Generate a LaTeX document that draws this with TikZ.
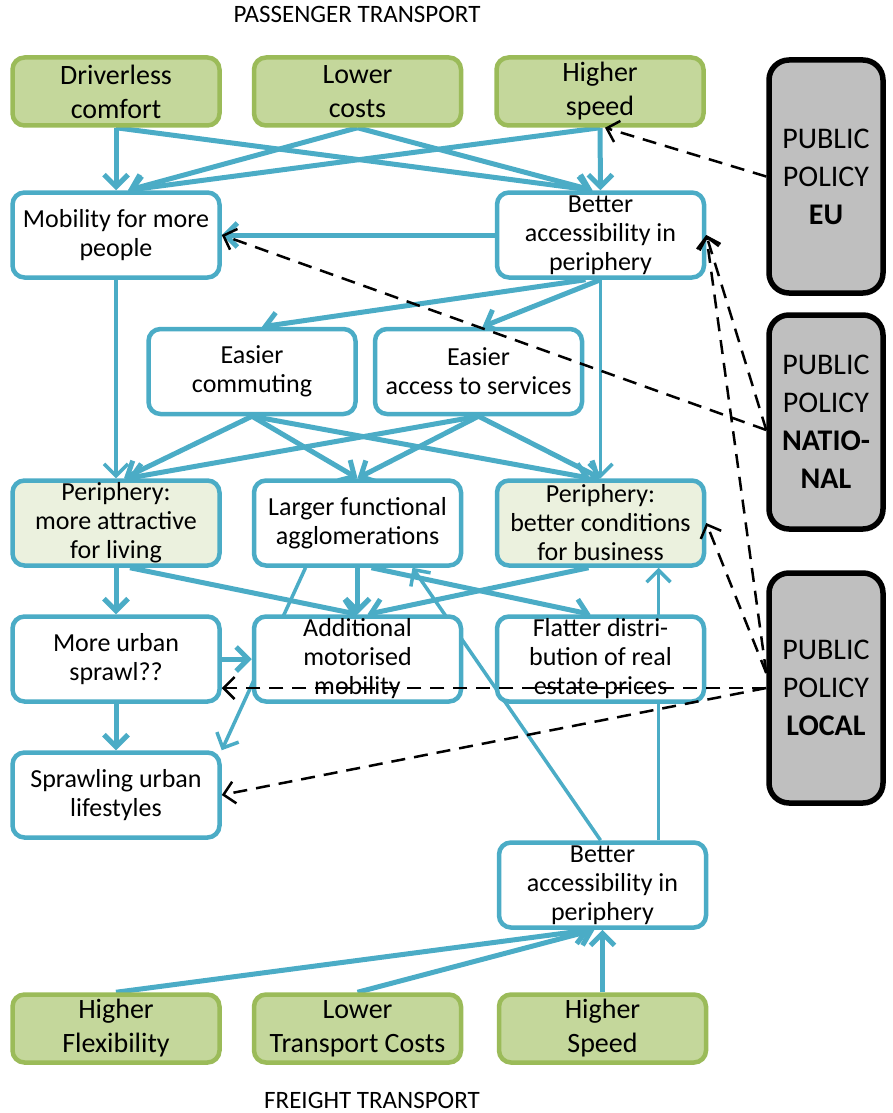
\documentclass[tikz,border=0pt]{standalone}
\usepackage{fontspec}
\setmainfont{Carlito}
\usetikzlibrary{arrows.meta,backgrounds}
\definecolor{linkblue}{HTML}{4BACC6}
\definecolor{greenfill}{HTML}{C4D79B}
\definecolor{greenborder}{HTML}{9BBB59}
\definecolor{lightgreen}{HTML}{EBF1DE}
\definecolor{policygray}{HTML}{BFBFBF}

\begin{document}
\begin{tikzpicture}[x=1pt,y=-1pt,
    box/.style={draw=linkblue,line width=4.5pt,rounded corners=12pt,fill=white,
      minimum width=207pt,minimum height=85pt,inner sep=2pt,align=center,
      font=\fontsize{26}{29}\selectfont},
    lightbox/.style={box,fill=lightgreen},
    driver/.style={box,draw=greenborder,fill=greenfill,minimum height=68pt,
      font=\fontsize{28}{34}\selectfont},
    policy/.style={draw=black,line width=5.5pt,rounded corners=20pt,fill=policygray,
      minimum width=114pt,align=center,font=\fontsize{30}{38}\selectfont},
    title/.style={font=\fontsize{25}{30}\selectfont},
    link/.style={draw=linkblue,line width=5pt,-{Straight Barb[length=12pt,width=24pt]}},
    thinlink/.style={link,line width=3.5pt},
    policylink/.style={draw=black,line width=2.5pt,dash pattern=on 14pt off 9pt,
      -{Straight Barb[length=11pt,width=22pt]}}]
  \useasboundingbox (0,0) rectangle (892,1113);

  \node[title] (pass) at (357,14) {PASSENGER TRANSPORT};
  \node[title] (frei) at (372,1100) {FREIGHT TRANSPORT};

  % passenger drivers
  \node[driver] (drv) at (116,91.5) {Driverless\\comfort};
  \node[driver] (low) at (357.5,91.5) {Lower\\costs};
  \node[driver] (spd) at (600,91.5) {Higher\\speed};

  \node[box] (mob) at (116,235) {Mobility for more\\people};
  \node[box] (bap) at (600.5,235) {Better\\accessibility in\\periphery};

  \node[box] (com) at (252,371.5) {Easier\\commuting};
  \node[box] (acc) at (478.5,371.5) {Easier\\access to services};

  \node[lightbox] (liv) at (116,523) {Periphery:\\more attractive\\for living};
  \node[box] (lar) at (357.5,523) {Larger functional\\agglomerations};
  \node[lightbox] (bus) at (600.5,523) {Periphery:\\better conditions\\for business};

  \node[box] (spr) at (116,659) {More urban\\sprawl??};
  \node[box] (add) at (357.5,659) {Additional\\motorised\\mobility};
  \node[box] (fla) at (600.5,659) {Flatter distri-\\bution of real\\estate prices};

  \node[box] (sty) at (116,795) {Sprawling urban\\lifestyles};

  % freight
  \node[box] (fba) at (602.5,885) {Better\\accessibility in\\periphery};
  \node[driver] (hfl) at (116,1028.5) {Higher\\Flexibility};
  \node[driver] (ltc) at (357.5,1028.5) {Lower\\Transport Costs};
  \node[driver] (hsp) at (602.5,1028.5) {Higher\\Speed};

  % policy levels
  \node[policy,minimum height=233pt] (eu) at (826,176.5) {PUBLIC\\POLICY\\\textbf{EU}};
  \node[policy,minimum height=214pt] (nat) at (826,422) {PUBLIC\\POLICY\\\textbf{NATIO-}\\\textbf{NAL}};
  \node[policy,minimum height=230pt] (loc) at (826,688) {PUBLIC\\POLICY\\\textbf{LOCAL}};

  \begin{pgfonlayer}{background}
    \draw[link] (drv.south) -- (mob.north);
    \draw[link] (drv.south) -- ([xshift=-8pt]bap.north);
    \draw[link] (low.south) -- ([xshift=12pt]mob.north);
    \draw[link] (low.south) -- ([xshift=-8pt]bap.north);
    \draw[link] (spd.south) -- ([xshift=12pt]mob.north);
    \draw[link] (spd.south) -- (bap.north);

    \draw[link] (bap.west) -- (mob.east);
    \draw[thinlink] (mob.south) -- (liv.north);
    \draw[thinlink] (bap.south) -- (bus.north);
    \draw[link] ([xshift=-15pt]bap.south) -- ([xshift=10pt]com.north);
    \draw[link] (bap.south) -- ([xshift=4pt]acc.north);

    \draw[link] (com.south) -- ([xshift=8pt]liv.north);
    \draw[link] (com.south) -- (lar.north);
    \draw[link] (com.south) -- ([xshift=-10pt]bus.north);
    \draw[link] (acc.south) -- ([xshift=12pt]liv.north);
    \draw[link] (acc.south) -- (lar.north);
    \draw[link] (acc.south) -- (bus.north);

    \draw[link] (liv.south) -- (spr.north);
    \draw[link] ([xshift=14pt]liv.south) -- (add.north);
    \draw[link] (lar.south) -- (add.north);
    \draw[link] ([xshift=-12pt]bus.south) -- ([xshift=10pt]add.north);
    \draw[link] ([xshift=14pt]lar.south) -- ([xshift=-10pt]fla.north);
    \draw[thinlink] ([xshift=-52pt]lar.south) -- (sty.north east);
    \draw[link] (spr.east) -- (add.west);
    \draw[link] (spr.south) -- (sty.north);

    \draw[thinlink] ([xshift=-2pt]fba.north) -- ([xshift=55pt]lar.south);
    \draw[thinlink] ([xshift=56pt]fba.north) -- ([xshift=58pt]bus.south);
    \draw[link] (hfl.north) -- ([xshift=-12pt]fba.south);
    \draw[link] (ltc.north) -- ([xshift=-8pt]fba.south);
    \draw[link] (hsp.north) -- (fba.south);
  \end{pgfonlayer}

  % policy influence
  \draw[policylink] (eu.west) -- ([xshift=5pt]spd.south);
  \draw[policylink] ([yshift=-8pt]nat.west) -- (mob.east);
  \draw[policylink] ([yshift=-8pt]nat.west) -- (bap.east);
  \draw[policylink] ([yshift=15pt]loc.west) -- (bap.east);
  \draw[policylink] ([yshift=15pt]loc.west) -- (bus.east);
  \draw[policylink] (loc.west) -- ([yshift=-29pt]spr.east);
  \draw[policylink] (loc.west) -- (sty.east);
\end{tikzpicture}
\end{document}
